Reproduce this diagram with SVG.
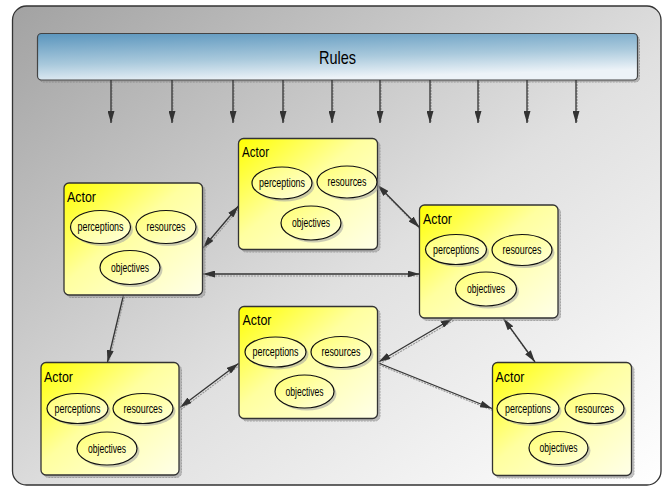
<svg xmlns="http://www.w3.org/2000/svg" width="664" height="488" viewBox="0 0 664 488">
<defs>
<linearGradient id="bg" x1="0" y1="0" x2="1" y2="1">
<stop offset="0" stop-color="#a2a2a2"/>
<stop offset="0.55" stop-color="#e0e0e0"/>
<stop offset="1" stop-color="#ffffff"/>
</linearGradient>
<linearGradient id="rules" x1="0" y1="0" x2="0.35" y2="1">
<stop offset="0" stop-color="#5a95bd"/>
<stop offset="0.6" stop-color="#a9c9dc"/>
<stop offset="1" stop-color="#edf3f8"/>
</linearGradient>
<linearGradient id="node" x1="0" y1="0" x2="1" y2="1">
<stop offset="0" stop-color="#ffff00"/>
<stop offset="0.45" stop-color="#ffffa0"/>
<stop offset="1" stop-color="#ffffe8"/>
</linearGradient>
<linearGradient id="ell" x1="0" y1="0" x2="1" y2="1">
<stop offset="0" stop-color="#ffff70"/>
<stop offset="1" stop-color="#ffffe0"/>
</linearGradient>
<marker id="ah" viewBox="0 0 12 7" refX="12" refY="3.5" markerWidth="12" markerHeight="7" markerUnits="userSpaceOnUse" orient="auto-start-reverse">
<path d="M0,0 L12,3.5 L0,7 z" fill="#333"/>
</marker>
<style>
.box{fill:url(#node);stroke:#333;stroke-width:1.3}
.sh{fill:#9a9a9a;stroke:#777;stroke-width:1;stroke-dasharray:2 1;opacity:0.6}
.ell{fill:url(#ell);stroke:#111;stroke-width:1.2}
.esh{fill:#a0a0a0;opacity:0.55}
.t{font-family:"Liberation Sans",Arial,sans-serif;fill:#000}
.actor{font-size:15.5px}
.lab{font-size:12.5px;text-anchor:middle}
.con{stroke:#333;stroke-width:1.3;fill:none}
.csh{stroke:#999;stroke-width:1.2;stroke-dasharray:2 1;fill:none}
</style>
</defs>

<rect x="12.5" y="6" width="648.5" height="479" rx="14" fill="url(#bg)" stroke="#333" stroke-width="1.3"/>

<g id="rules-bar">
<rect x="39.5" y="36" width="600" height="46" rx="4" class="sh"/>
<rect x="37.5" y="33.5" width="600" height="46.5" rx="4" fill="url(#rules)" stroke="#444" stroke-width="1.2"/>
<text class="t" x="337.5" y="63.5" font-size="19" text-anchor="middle" textLength="37" lengthAdjust="spacingAndGlyphs">Rules</text>
</g>

<g id="connectors">
<g class="csh">
<path d="M112,81 V122 M173,81 V122 M234,81 V122 M284,81 V122 M333,81 V122 M381,81 V122 M431,81 V122 M479,81 V122 M528,81 V122 M577,81 V122"/>
<path d="M204,250 L239.5,208"/>
<path d="M378.5,187 L420.5,229.5"/>
<path d="M203,276 H419.5"/>
<path d="M124.5,297 L108.5,364"/>
<path d="M181,409.5 L239.5,365.5"/>
<path d="M379.5,364 L453.5,320.5"/>
<path d="M504.5,320.5 L536,364"/>
<path d="M379.5,365 L493,410.5"/>
</g>
<g class="con" marker-end="url(#ah)">
<path d="M111,80 V123"/><path d="M172,80 V123"/><path d="M233,80 V123"/><path d="M283,80 V123"/><path d="M332,80 V123"/>
<path d="M380,80 V123"/><path d="M430,80 V123"/><path d="M478,80 V123"/><path d="M527,80 V123"/><path d="M576,80 V123"/>
</g>
<path class="con" d="M203,248 L238.5,206" marker-start="url(#ah)" marker-end="url(#ah)"/>
<path class="con" d="M377.5,185 L419.5,227.5" marker-start="url(#ah)" marker-end="url(#ah)"/>
<path class="con" d="M203,274 H419.5" marker-start="url(#ah)" marker-end="url(#ah)"/>
<path class="con" d="M123.5,295 L107.5,362" marker-end="url(#ah)"/>
<path class="con" d="M180,407.5 L238.5,363.5" marker-start="url(#ah)" marker-end="url(#ah)"/>
<path class="con" d="M378.5,362 L452.5,318.5" marker-start="url(#ah)" marker-end="url(#ah)"/>
<path class="con" d="M503.5,318.5 L535,362" marker-start="url(#ah)" marker-end="url(#ah)"/>
<path class="con" d="M378.5,363 L492,408.5" marker-end="url(#ah)"/>
</g>

<g id="actor1">
<rect class="sh" x="241" y="141" width="139" height="111" rx="5"/>
<rect class="box" x="238.5" y="138.5" width="139" height="111" rx="5"/>
<text class="t actor" x="242" y="157" textLength="27" lengthAdjust="spacingAndGlyphs">Actor</text>
<ellipse class="esh" cx="284.5" cy="185.5" rx="30" ry="16"/>
<ellipse class="ell" cx="282" cy="183" rx="30" ry="16"/>
<text class="t lab" x="282" y="187" textLength="46" lengthAdjust="spacingAndGlyphs">perceptions</text>
<ellipse class="esh" cx="349.5" cy="184.5" rx="30" ry="16"/>
<ellipse class="ell" cx="347" cy="182" rx="30" ry="16"/>
<text class="t lab" x="347" y="186" textLength="39" lengthAdjust="spacingAndGlyphs">resources</text>
<ellipse class="esh" cx="313.5" cy="225.5" rx="30" ry="17"/>
<ellipse class="ell" cx="311" cy="223" rx="30" ry="17"/>
<text class="t lab" x="311" y="227" textLength="38" lengthAdjust="spacingAndGlyphs">objectives</text>
</g>

<g id="actor2">
<rect class="sh" x="66.5" y="185.5" width="138.5" height="112" rx="5"/>
<rect class="box" x="64" y="183" width="138.5" height="112" rx="5"/>
<text class="t actor" x="67" y="202" textLength="29" lengthAdjust="spacingAndGlyphs">Actor</text>
<ellipse class="esh" cx="103" cy="229.5" rx="30" ry="16.5"/>
<ellipse class="ell" cx="100.5" cy="227" rx="30" ry="16.5"/>
<text class="t lab" x="100.5" y="231" textLength="46" lengthAdjust="spacingAndGlyphs">perceptions</text>
<ellipse class="esh" cx="168.5" cy="229.5" rx="30" ry="16.5"/>
<ellipse class="ell" cx="166" cy="227" rx="30" ry="16.5"/>
<text class="t lab" x="166" y="231" textLength="39" lengthAdjust="spacingAndGlyphs">resources</text>
<ellipse class="esh" cx="132.5" cy="270" rx="30" ry="17"/>
<ellipse class="ell" cx="130" cy="267.5" rx="30" ry="17"/>
<text class="t lab" x="130" y="271.5" textLength="38" lengthAdjust="spacingAndGlyphs">objectives</text>
</g>

<g id="actor3">
<rect class="sh" x="422" y="207.5" width="138.5" height="113" rx="5"/>
<rect class="box" x="419.5" y="205" width="138.5" height="113" rx="5"/>
<text class="t actor" x="423" y="224" textLength="29" lengthAdjust="spacingAndGlyphs">Actor</text>
<ellipse class="esh" cx="458.5" cy="252" rx="30.5" ry="15"/>
<ellipse class="ell" cx="456" cy="249.5" rx="30.5" ry="15"/>
<text class="t lab" x="456" y="253.5" textLength="46" lengthAdjust="spacingAndGlyphs">perceptions</text>
<ellipse class="esh" cx="524.5" cy="252.5" rx="30" ry="15.5"/>
<ellipse class="ell" cx="522" cy="250" rx="30" ry="15.5"/>
<text class="t lab" x="522" y="254" textLength="39" lengthAdjust="spacingAndGlyphs">resources</text>
<ellipse class="esh" cx="488.5" cy="291.5" rx="30.5" ry="17"/>
<ellipse class="ell" cx="486" cy="289" rx="30.5" ry="17"/>
<text class="t lab" x="486" y="293" textLength="38" lengthAdjust="spacingAndGlyphs">objectives</text>
</g>

<g id="actor4">
<rect class="sh" x="43.5" y="365" width="138" height="112.5" rx="5"/>
<rect class="box" x="41" y="362.5" width="138" height="112.5" rx="5"/>
<text class="t actor" x="44" y="382" textLength="29" lengthAdjust="spacingAndGlyphs">Actor</text>
<ellipse class="esh" cx="80" cy="411" rx="30.5" ry="15"/>
<ellipse class="ell" cx="77.5" cy="408.5" rx="30.5" ry="15"/>
<text class="t lab" x="77.5" y="412.5" textLength="46" lengthAdjust="spacingAndGlyphs">perceptions</text>
<ellipse class="esh" cx="145.5" cy="411" rx="30" ry="15"/>
<ellipse class="ell" cx="143" cy="408.5" rx="30" ry="15"/>
<text class="t lab" x="143" y="412.5" textLength="39" lengthAdjust="spacingAndGlyphs">resources</text>
<ellipse class="esh" cx="109.5" cy="451" rx="30" ry="16.5"/>
<ellipse class="ell" cx="107" cy="448.5" rx="30" ry="16.5"/>
<text class="t lab" x="107" y="452.5" textLength="38" lengthAdjust="spacingAndGlyphs">objectives</text>
</g>

<g id="actor5">
<rect class="sh" x="241.5" y="309" width="138.5" height="112" rx="5"/>
<rect class="box" x="239" y="306.5" width="138.5" height="112" rx="5"/>
<text class="t actor" x="242.5" y="325" textLength="29" lengthAdjust="spacingAndGlyphs">Actor</text>
<ellipse class="esh" cx="278" cy="354.5" rx="30.5" ry="15"/>
<ellipse class="ell" cx="275.5" cy="352" rx="30.5" ry="15"/>
<text class="t lab" x="275.5" y="356" textLength="46" lengthAdjust="spacingAndGlyphs">perceptions</text>
<ellipse class="esh" cx="343.5" cy="354.5" rx="30" ry="15.5"/>
<ellipse class="ell" cx="341" cy="352" rx="30" ry="15.5"/>
<text class="t lab" x="341" y="356" textLength="39" lengthAdjust="spacingAndGlyphs">resources</text>
<ellipse class="esh" cx="307" cy="394" rx="29.5" ry="16.5"/>
<ellipse class="ell" cx="304.5" cy="391.5" rx="29.5" ry="16.5"/>
<text class="t lab" x="304.5" y="395.5" textLength="38" lengthAdjust="spacingAndGlyphs">objectives</text>
</g>

<g id="actor6">
<rect class="sh" x="495" y="365" width="139" height="113" rx="5"/>
<rect class="box" x="492.5" y="362.5" width="139" height="113" rx="5"/>
<text class="t actor" x="495.5" y="381.5" textLength="29" lengthAdjust="spacingAndGlyphs">Actor</text>
<ellipse class="esh" cx="530.5" cy="411" rx="31" ry="15"/>
<ellipse class="ell" cx="528" cy="408.5" rx="31" ry="15"/>
<text class="t lab" x="528" y="412.5" textLength="46" lengthAdjust="spacingAndGlyphs">perceptions</text>
<ellipse class="esh" cx="597" cy="411" rx="29.5" ry="15"/>
<ellipse class="ell" cx="594.5" cy="408.5" rx="29.5" ry="15"/>
<text class="t lab" x="594.5" y="412.5" textLength="39" lengthAdjust="spacingAndGlyphs">resources</text>
<ellipse class="esh" cx="561" cy="450.5" rx="29.5" ry="16.5"/>
<ellipse class="ell" cx="558.5" cy="448" rx="29.5" ry="16.5"/>
<text class="t lab" x="558.5" y="452" textLength="38" lengthAdjust="spacingAndGlyphs">objectives</text>
</g>
</svg>
